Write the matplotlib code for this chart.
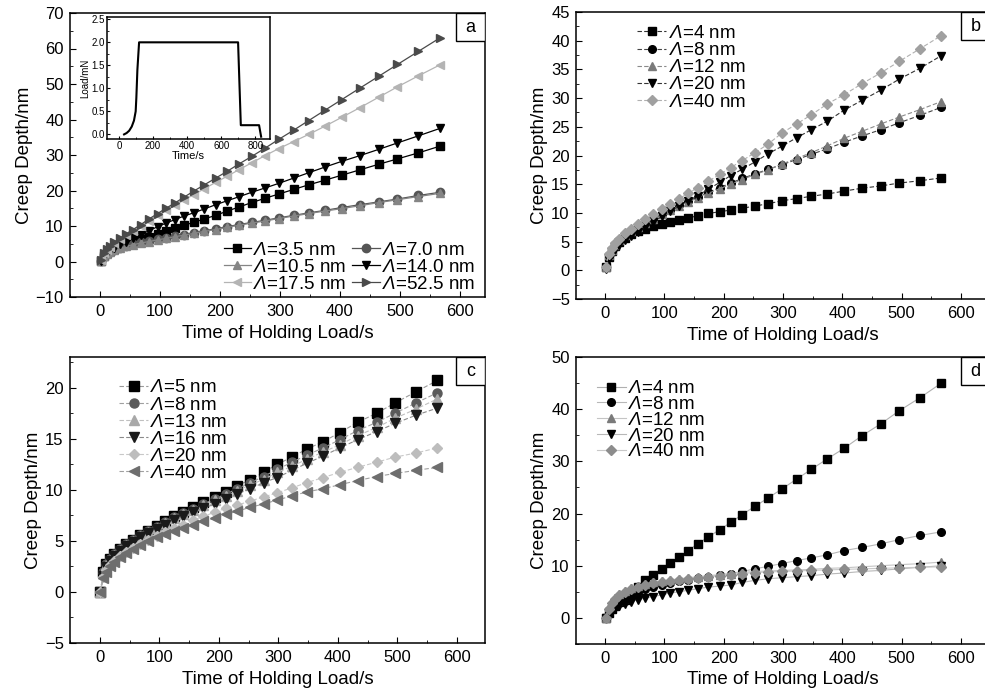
import matplotlib
matplotlib.use("Agg")
import matplotlib.pyplot as plt
from matplotlib.patches import Rectangle
from matplotlib.ticker import MultipleLocator

plt.rcParams.update({
    "font.family": ["Liberation Sans", "DejaVu Sans"],
    "mathtext.fontset": "custom",
    "mathtext.rm": "Liberation Sans:italic",
    "mathtext.it": "Liberation Sans:italic",
    "axes.linewidth": 1.1,
    "xtick.direction": "in", "ytick.direction": "in",
    "xtick.major.size": 4, "ytick.major.size": 4,
    "xtick.minor.size": 2.5, "ytick.minor.size": 2.5,
    "xtick.labelsize": 12, "ytick.labelsize": 12,
})

LAM = r"$\Lambda$"

T_HOLD = [1, 6, 11, 17, 24, 34, 44, 55, 68, 81, 96, 110, 125, 140, 156, 174, 193,
          212, 231, 253, 275, 298, 323, 348, 375, 403, 433, 465, 496, 531, 567]

# --- panel a: creep depth (nm) -------------------------------------------------
A_3p5 = [0.2, 1.6, 2.3, 3.0, 3.5, 4.3, 5.0, 5.7, 6.4, 7.0, 7.8, 8.5, 9.3, 10.2, 11.0, 12.0,
         13.0, 14.2, 15.3, 16.6, 17.8, 19.0, 20.3, 21.6, 22.9, 24.3, 25.8, 27.4, 28.9, 30.6, 32.5]
A_7p0 = [0.2, 1.7, 2.2, 2.8, 3.3, 3.9, 4.4, 4.9, 5.4, 5.8, 6.3, 6.7, 7.2, 7.6, 8.1, 8.7,
         9.2, 9.8, 10.4, 11.0, 11.6, 12.3, 13.0, 13.7, 14.4, 15.2, 16.0, 16.8, 17.6, 18.6, 19.5]
A_10p5 = [0.2, 1.6, 2.1, 2.7, 3.2, 3.8, 4.3, 4.7, 5.2, 5.6, 6.1, 6.5, 7.0, 7.4, 7.9, 8.5,
          9.0, 9.6, 10.2, 10.8, 11.4, 12.1, 12.8, 13.5, 14.2, 14.9, 15.7, 16.6, 17.4, 18.3, 19.2]
A_14p0 = [0.2, 1.8, 2.5, 3.2, 3.9, 4.8, 5.6, 6.5, 7.6, 8.6, 9.8, 10.8, 11.8, 12.8, 13.7, 14.8,
          16.0, 17.1, 18.2, 19.5, 20.7, 22.0, 23.5, 25.0, 26.6, 28.2, 29.8, 31.6, 33.4, 35.4, 37.5]
A_17p5 = [0.3, 2.3, 3.2, 4.1, 5.2, 6.4, 7.5, 8.7, 10.1, 11.5, 13.0, 14.4, 15.8, 17.3, 18.8, 20.5,
          22.3, 24.0, 25.8, 27.8, 29.8, 31.8, 33.8, 35.8, 38.1, 40.6, 43.3, 46.3, 49.2, 52.3, 55.4]
A_52p5 = [0.3, 2.4, 3.4, 4.3, 5.4, 6.6, 7.8, 9.0, 10.4, 11.9, 13.5, 15.0, 16.5, 18.1, 19.8, 21.6,
          23.5, 25.4, 27.4, 29.6, 31.9, 34.4, 37.0, 39.7, 42.6, 45.6, 48.8, 52.2, 55.5, 59.2, 63.0]

# inset: load history
INSET_T = [30, 45, 60, 75, 88, 98, 102, 108, 118, 698, 714, 821, 833]
INSET_LOAD = [0.0, 0.03, 0.08, 0.17, 0.3, 0.5, 0.8, 1.4, 2.0, 2.0, 0.2, 0.2, -0.05]

# --- panel b ---------------------------------------------------------------------
B_4 = [0.6, 2.4, 3.4, 4.2, 4.9, 5.7, 6.3, 6.8, 7.2, 7.7, 8.1, 8.4, 8.8, 9.1, 9.5, 9.9,
       10.2, 10.5, 10.8, 11.2, 11.6, 12.1, 12.5, 12.9, 13.3, 13.8, 14.3, 14.7, 15.2, 15.6, 16.1]
B_8 = [0.5, 2.6, 3.5, 4.4, 5.2, 6.1, 6.8, 7.5, 8.3, 9.0, 9.8, 10.5, 11.3, 12.0, 12.8, 13.6,
       14.4, 15.2, 16.0, 16.8, 17.6, 18.4, 19.3, 20.2, 21.2, 22.3, 23.4, 24.5, 25.7, 27.0, 28.4]
B_12 = [0.5, 2.6, 3.5, 4.4, 5.2, 6.1, 6.8, 7.5, 8.3, 9.0, 9.8, 10.5, 11.2, 11.9, 12.6, 13.4,
        14.2, 15.0, 15.8, 16.7, 17.5, 18.5, 19.5, 20.5, 21.7, 23.0, 24.2, 25.5, 26.7, 28.0, 29.4]
B_20 = [0.3, 2.0, 2.9, 3.7, 4.4, 5.2, 5.9, 6.7, 7.5, 8.4, 9.4, 10.3, 11.2, 12.1, 13.0, 14.1,
        15.3, 16.5, 17.6, 18.9, 20.3, 21.6, 23.1, 24.5, 26.0, 27.9, 29.6, 31.4, 33.3, 35.2, 37.4]
B_40 = [0.5, 2.8, 3.8, 4.7, 5.5, 6.5, 7.2, 8.0, 8.9, 9.8, 10.7, 11.6, 12.5, 13.4, 14.4, 15.5,
        16.7, 17.9, 19.1, 20.5, 22.0, 23.9, 25.5, 27.1, 29.0, 30.6, 32.5, 34.4, 36.4, 38.6, 40.9]

# --- panel c ---------------------------------------------------------------------
C_5 = [0.0, 2.0, 2.7, 3.2, 3.7, 4.2, 4.7, 5.1, 5.6, 6.0, 6.5, 6.9, 7.4, 7.8, 8.3, 8.8,
       9.3, 9.8, 10.4, 11.0, 11.7, 12.5, 13.2, 14.0, 14.7, 15.6, 16.6, 17.5, 18.5, 19.6, 20.7]
C_8 = [0.0, 2.0, 2.7, 3.2, 3.7, 4.2, 4.7, 5.1, 5.6, 6.0, 6.4, 6.8, 7.3, 7.7, 8.1, 8.6,
       9.1, 9.6, 10.1, 10.7, 11.3, 12.0, 12.7, 13.4, 14.1, 14.9, 15.8, 16.6, 17.5, 18.5, 19.5]
C_13 = [0.0, 1.9, 2.6, 3.1, 3.6, 4.1, 4.6, 5.0, 5.5, 5.9, 6.3, 6.7, 7.2, 7.6, 8.0, 8.5,
        9.0, 9.4, 9.9, 10.5, 11.0, 11.7, 12.3, 13.0, 13.7, 14.4, 15.3, 16.1, 17.0, 17.9, 18.9]
C_16 = [0.0, 1.6, 2.4, 3.0, 3.5, 4.0, 4.5, 4.9, 5.4, 5.8, 6.2, 6.6, 7.0, 7.4, 7.8, 8.2,
        8.6, 9.1, 9.6, 10.1, 10.7, 11.2, 11.9, 12.6, 13.3, 14.1, 14.9, 15.7, 16.5, 17.3, 18.0]
C_20 = [0.0, 1.5, 2.1, 2.6, 3.0, 3.5, 3.9, 4.3, 4.7, 5.1, 5.5, 5.9, 6.3, 6.6, 7.0, 7.4,
        7.8, 8.2, 8.5, 8.9, 9.3, 9.7, 10.2, 10.7, 11.2, 11.7, 12.2, 12.7, 13.2, 13.6, 14.1]
C_40 = [0.0, 1.4, 2.0, 2.5, 2.9, 3.4, 3.8, 4.2, 4.6, 5.0, 5.4, 5.7, 6.0, 6.3, 6.6, 6.9,
        7.2, 7.6, 7.9, 8.3, 8.6, 9.0, 9.4, 9.8, 10.1, 10.5, 10.9, 11.3, 11.6, 11.9, 12.2]

# --- panel d ---------------------------------------------------------------------
D_4 = [0.0, 1.0, 1.8, 2.3, 3.0, 3.5, 4.5, 6.0, 7.3, 8.3, 9.4, 10.5, 11.7, 12.9, 14.2, 15.5,
       16.9, 18.3, 19.8, 21.4, 23.0, 24.7, 26.6, 28.5, 30.5, 32.5, 34.9, 37.2, 39.7, 42.2, 45.0]
D_8 = [0.0, 1.5, 2.2, 2.7, 3.3, 3.9, 4.5, 5.0, 5.5, 5.9, 6.3, 6.7, 7.0, 7.3, 7.6, 7.9,
       8.2, 8.5, 8.9, 9.4, 9.9, 10.4, 11.0, 11.5, 12.1, 12.9, 13.5, 14.2, 15.0, 15.8, 16.5]
D_12 = [0.0, 2.0, 3.0, 3.8, 4.5, 5.2, 5.7, 6.1, 6.5, 6.8, 7.1, 7.3, 7.5, 7.7, 7.9, 8.1,
        8.3, 8.5, 8.7, 8.9, 9.0, 9.1, 9.2, 9.3, 9.5, 9.6, 9.8, 10.0, 10.2, 10.4, 10.7]
D_20 = [0.0, 1.2, 1.6, 2.0, 2.3, 2.7, 3.1, 3.5, 3.8, 4.1, 4.4, 4.8, 5.0, 5.3, 5.6, 5.9,
        6.1, 6.3, 6.8, 7.2, 7.5, 7.7, 7.9, 8.1, 8.4, 8.6, 8.9, 9.1, 9.4, 9.7, 10.0]
D_40 = [0.0, 1.8, 2.8, 3.6, 4.3, 5.0, 5.5, 5.9, 6.3, 6.6, 6.9, 7.1, 7.3, 7.5, 7.7, 7.9,
        8.1, 8.3, 8.5, 8.7, 8.8, 8.9, 9.0, 9.1, 9.2, 9.3, 9.4, 9.5, 9.6, 9.7, 9.8]

W, H = 985, 695
fig = plt.figure(figsize=(W / 100, H / 100), dpi=100)
LEG = dict(frameon=False, fontsize=13.5, borderpad=0, borderaxespad=0,
           handletextpad=0.12)


def px_axes(left, top, right, bottom):
    return fig.add_axes([left / W, 1 - bottom / H, (right - left) / W, (bottom - top) / H])


def draw(ax, series, ms, lw, ls):
    for label, y, mk, fc, lc in series:
        ax.plot(T_HOLD, y, ls=ls, lw=lw, color=lc, marker=mk,
                ms=ms * (0.85 if mk == "D" else 1.0), mfc=fc, mec=fc, label=label)


def frame(ax, xlim, ylim, ymaj, ymin, letter):
    ax.set_xlim(*xlim); ax.set_ylim(*ylim)
    ax.xaxis.set_major_locator(MultipleLocator(100))
    ax.xaxis.set_minor_locator(MultipleLocator(50))
    ax.yaxis.set_major_locator(MultipleLocator(ymaj))
    ax.yaxis.set_minor_locator(MultipleLocator(ymin))
    ax.tick_params(which="both", top=False, right=False)
    ax.tick_params(axis="x", pad=5)
    ax.tick_params(axis="y", pad=4.5)
    ax.set_xlabel("Time of Holding Load/s", fontsize=13.5, labelpad=4)
    ax.set_ylabel("Creep Depth/nm", fontsize=13.5, labelpad=2)
    # little boxed panel letter in the upper-right corner
    bb = ax.get_position()
    w = 29 / (bb.width * W); h = 28 / (bb.height * H)
    ax.add_patch(Rectangle((1 - w, 1 - h), w, h, transform=ax.transAxes,
                           fc="white", ec="black", lw=1.0, zorder=5))
    ax.text(1 - w / 2, 1 - h / 2, letter, transform=ax.transAxes, ha="center",
            va="center", fontsize=13, zorder=6)


# --- a --------------------------------------------------------------------------
ax = px_axes(70, 13, 485, 297)
sa = [(LAM + "=3.5 nm", A_3p5, "s", "black", "black"),
      (LAM + "=7.0 nm", A_7p0, "o", "#555555", "#555555"),
      (LAM + "=10.5 nm", A_10p5, "^", "#858585", "#858585"),
      (LAM + "=14.0 nm", A_14p0, "v", "black", "black"),
      (LAM + "=17.5 nm", A_17p5, "<", "#b4b4b4", "#b4b4b4"),
      (LAM + "=52.5 nm", A_52p5, ">", "#4a4a4a", "#4a4a4a")]
draw(ax, sa, 6, 0.9, "-")
frame(ax, (-50, 642), (-10, 70), 10, 5, "a")
h, l = ax.get_legend_handles_labels()
order = [0, 2, 4, 1, 3, 5]
ax.legend([h[i] for i in order], [l[i] for i in order], ncol=2, loc="upper left",
          bbox_to_anchor=(0.37, 0.195), handlelength=1.45, columnspacing=0.35,
          labelspacing=0.0, **LEG)

ins = fig.add_axes([107 / W, 1 - 139 / H, 163 / W, 122 / H])
ins.plot(INSET_T, INSET_LOAD, color="black", lw=1.5)
ins.set_xlim(-70, 885); ins.set_ylim(-0.1, 2.55)
ins.xaxis.set_major_locator(MultipleLocator(200))
ins.xaxis.set_minor_locator(MultipleLocator(100))
ins.yaxis.set_major_locator(MultipleLocator(0.5))
ins.yaxis.set_minor_locator(MultipleLocator(0.25))
ins.tick_params(which="both", labelsize=7, length=2, pad=1.5, top=False, right=False)
ins.tick_params(which="minor", length=1.2)
ins.set_xlabel("Time/s", fontsize=8, labelpad=0)
ins.set_ylabel("Load/mN", fontsize=7, labelpad=1)

# --- b --------------------------------------------------------------------------
ax = px_axes(576, 12, 990, 299)
sb = [(LAM + "=4 nm", B_4, "s", "black", "#333333"),
      (LAM + "=8 nm", B_8, "o", "black", "#444444"),
      (LAM + "=12 nm", B_12, "^", "#7a7a7a", "#8a8a8a"),
      (LAM + "=20 nm", B_20, "v", "black", "#333333"),
      (LAM + "=40 nm", B_40, "D", "#a0a0a0", "#b0b0b0")]
draw(ax, sb, 5.5, 0.8, (0, (4, 2)))
frame(ax, (-49, 649), (-5, 45), 5, 2.5, "b")
ax.legend(loc="upper left", bbox_to_anchor=(0.148, 0.955), handlelength=1.55,
          labelspacing=0.0, **LEG)

# --- c --------------------------------------------------------------------------
ax = px_axes(70, 357, 485, 643)
sc = [(LAM + "=5 nm", C_5, "s", "black", "#9a9a9a"),
      (LAM + "=8 nm", C_8, "o", "#5a5a5a", "#a0a0a0"),
      (LAM + "=13 nm", C_13, "^", "#a8a8a8", "#c0c0c0"),
      (LAM + "=16 nm", C_16, "v", "#1a1a1a", "#8a8a8a"),
      (LAM + "=20 nm", C_20, "D", "#bdbdbd", "#c8c8c8"),
      (LAM + "=40 nm", C_40, "<", "#6e6e6e", "#a0a0a0")]
draw(ax, sc, 6.5, 0.8, (0, (4, 2)))
frame(ax, (-50, 647), (-5, 23), 5, 2.5, "c")
ax.legend(loc="upper left", bbox_to_anchor=(0.118, 0.922), handlelength=1.55,
          labelspacing=0.0, **LEG)

# --- d --------------------------------------------------------------------------
ax = px_axes(576, 357, 990, 644)
sd = [(LAM + "=4 nm", D_4, "s", "black", "#b0b0b0"),
      (LAM + "=8 nm", D_8, "o", "black", "#b8b8b8"),
      (LAM + "=12 nm", D_12, "^", "#7a7a7a", "#c4c4c4"),
      (LAM + "=20 nm", D_20, "v", "black", "#b8b8b8"),
      (LAM + "=40 nm", D_40, "D", "#8c8c8c", "#c8c8c8")]
draw(ax, sd, 5.5, 0.8, "-")
frame(ax, (-49, 649), (-5, 50), 10, 5, "d")
ax.legend(loc="upper left", bbox_to_anchor=(0.05, 0.92), handlelength=1.55,
          labelspacing=-0.07, **LEG)

fig.savefig("out.png", dpi=100)
